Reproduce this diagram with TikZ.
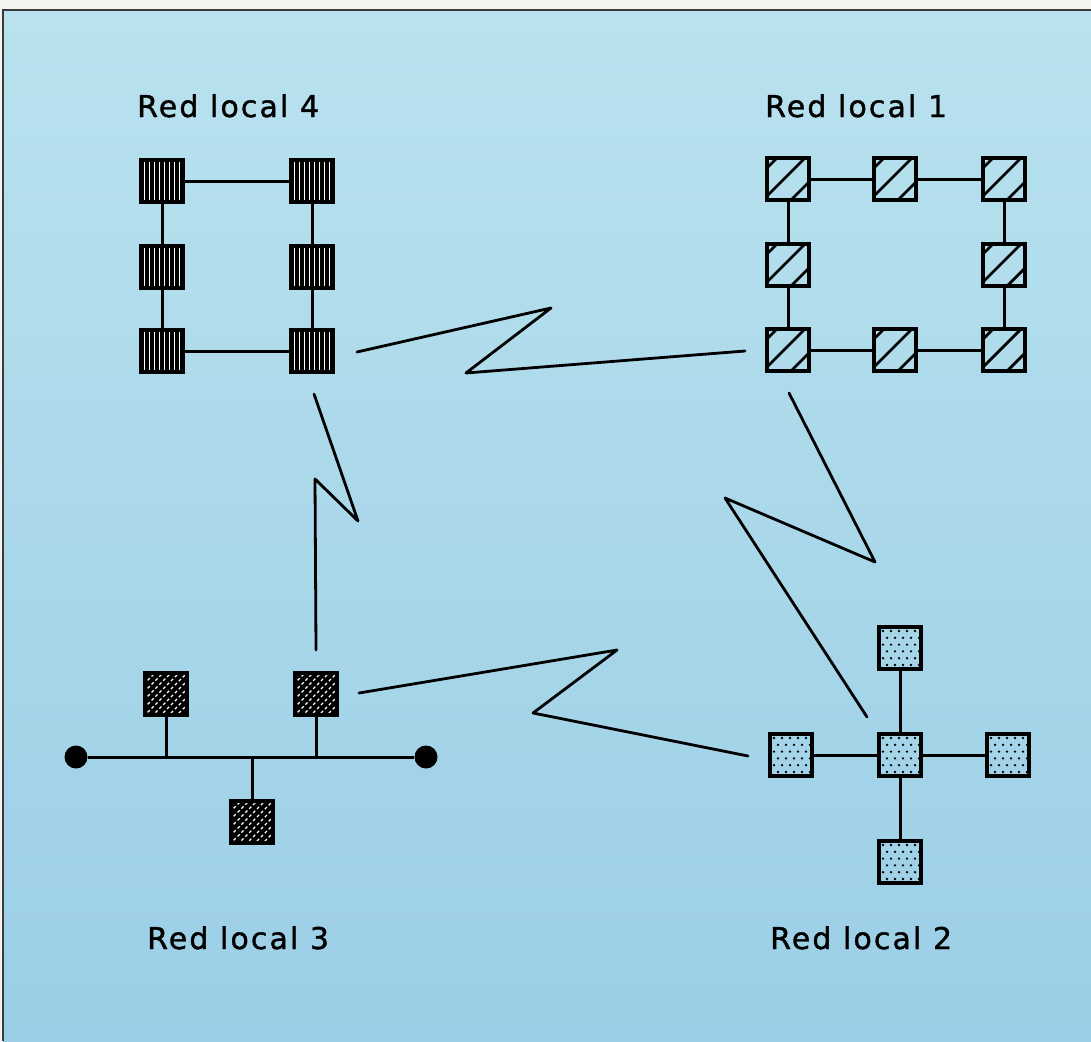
\documentclass[tikz,border=0pt]{standalone}
\usepackage{fontspec}
\setmainfont{DejaVu Sans}
\newfontfamily\labelfont[LetterSpace=7,FakeBold=1.2]{DejaVu Sans}
\usetikzlibrary{calc}
\definecolor{bgtop}{HTML}{B9E2EE}
\definecolor{bgbot}{HTML}{9BCEE6}
\definecolor{paper}{HTML}{F3F3EF}
\definecolor{framec}{HTML}{3A3A3A}
\tikzset{
  conn/.style={line width=3pt, black},
  zig/.style={line width=2.8pt, black, line join=round, line cap=round},
  box/.style={draw=black, line width=3.6pt, minimum size=42pt, inner sep=0pt},
  vstripe/.style={box, fill=black, path picture={
    \foreach \i in {0,...,7}{
      \draw[white, line width=1.4pt]
        ([xshift={(\i-3.5)*5.0pt}, yshift=30pt]path picture bounding box.center) --
        ([xshift={(\i-3.5)*5.0pt}, yshift=-30pt]path picture bounding box.center);}}},
  hatchbox/.style={box, path picture={
    \foreach \c in {32,4,-24}{
      \draw[black, line width=2.8pt]
        ([xshift=-30pt, yshift={(\c-30)*1pt}]path picture bounding box.center) --
        ([xshift=30pt, yshift={(\c+30)*1pt}]path picture bounding box.center);}}},
  dashbox/.style={box, fill=black, path picture={
    \foreach \c in {-40,-32,...,40}{
      \draw[white, line width=1.2pt, dash pattern=on 3pt off 2.5pt]
        ([xshift=-30pt, yshift={(\c-30)*1pt}]path picture bounding box.center) --
        ([xshift=30pt, yshift={(\c+30)*1pt}]path picture bounding box.center);}}},
  dotbox/.style={box, path picture={
    \foreach \r in {0,...,5}{
      \foreach \k in {0,...,4}{
        \fill[black] ([xshift={(-17+\k*8+mod(\r,2)*4)*1pt}, yshift={(17-\r*6.8)*1pt}]path picture bounding box.center) circle (1.3pt);}}}},
  term/.style={circle, fill=black, minimum size=23pt, inner sep=0pt},
  lbl/.style={anchor=base west, inner sep=0pt, font=\labelfont\fontsize{30}{36}\selectfont, text=black}
}
\begin{document}
\begin{tikzpicture}[x=1pt, y=-1pt]
\useasboundingbox (0,0) rectangle (1091,1041);
\fill[paper] (0,0) rectangle (1091,1041);
\shade[top color=bgtop, bottom color=bgbot] (3,10) rectangle (1091,1041);
\draw[framec, line width=2.5pt] (3,1041) -- (3,10) -- (1091,10);

% labels
\node[lbl] (l4) at (137,117) {Red local 4};
\node[lbl] (l1) at (765,117) {Red local 1};
\node[lbl] (l3) at (147,949) {Red local 3};
\node[lbl] (l2) at (770,949) {Red local 2};

% Red local 4
\node[vstripe] (n4a) at (162,181) {};
\node[vstripe] (n4b) at (312,181) {};
\node[vstripe] (n4c) at (162,267) {};
\node[vstripe] (n4d) at (312,267) {};
\node[vstripe] (n4e) at (162,351) {};
\node[vstripe] (n4f) at (312,351) {};
\draw[conn] (n4a) -- (n4b);
\draw[conn] (n4a) -- (n4c);
\draw[conn] (n4c) -- (n4e);
\draw[conn] (n4e) -- (n4f);
\draw[conn] (n4b) -- (n4d);
\draw[conn] (n4d) -- (n4f);

% Red local 1
\node[hatchbox] (n1a) at (788,179) {};
\node[hatchbox] (n1b) at (895,179) {};
\node[hatchbox] (n1c) at (1004,179) {};
\node[hatchbox] (n1d) at (788,265) {};
\node[hatchbox] (n1e) at (1004,265) {};
\node[hatchbox] (n1f) at (788,350) {};
\node[hatchbox] (n1g) at (895,350) {};
\node[hatchbox] (n1h) at (1004,350) {};
\draw[conn] (n1a) -- (n1b);
\draw[conn] (n1b) -- (n1c);
\draw[conn] (n1a) -- (n1d);
\draw[conn] (n1d) -- (n1f);
\draw[conn] (n1c) -- (n1e);
\draw[conn] (n1e) -- (n1h);
\draw[conn] (n1f) -- (n1g);
\draw[conn] (n1g) -- (n1h);

% Red local 3
\node[term] (t3l) at (76,757) {};
\node[term] (t3r) at (426,757) {};
\node[dashbox] (n3a) at (166,694) {};
\node[dashbox] (n3b) at (316,694) {};
\node[dashbox] (n3c) at (252,822) {};
\draw[conn] (t3l) -- (t3r);
\draw[conn] (n3a) -- (n3a |- t3l);
\draw[conn] (n3b) -- (n3b |- t3l);
\draw[conn] (n3c) -- (n3c |- t3l);

% Red local 2
\node[dotbox] (n2c) at (900,755) {};
\node[dotbox] (n2t) at (900,648) {};
\node[dotbox] (n2l) at (791,755) {};
\node[dotbox] (n2r) at (1008,755) {};
\node[dotbox] (n2b) at (900,862) {};
\draw[conn] (n2c) -- (n2t);
\draw[conn] (n2c) -- (n2l);
\draw[conn] (n2c) -- (n2r);
\draw[conn] (n2c) -- (n2b);

% zigzag links
\coordinate (z41s) at (357,352);
\coordinate (z41p) at (551,308);
\coordinate (z41q) at (466,373);
\coordinate (z41e) at (745,351);
\draw[zig] (z41s) -- (z41p) -- (z41q) -- (z41e);

\coordinate (z43s) at (314,394);
\coordinate (z43p) at (358,521);
\coordinate (z43q) at (315,479);
\coordinate (z43e) at (316,650);
\draw[zig] (z43s) -- (z43p) -- (z43q) -- (z43e);

\coordinate (z12s) at (789,393);
\coordinate (z12p) at (875,562);
\coordinate (z12q) at (725,498);
\coordinate (z12e) at (867,717);
\draw[zig] (z12s) -- (z12p) -- (z12q) -- (z12e);

\coordinate (z32s) at (359,693);
\coordinate (z32p) at (617,650);
\coordinate (z32q) at (533,713);
\coordinate (z32e) at (748,756);
\draw[zig] (z32s) -- (z32p) -- (z32q) -- (z32e);
\end{tikzpicture}
\end{document}
